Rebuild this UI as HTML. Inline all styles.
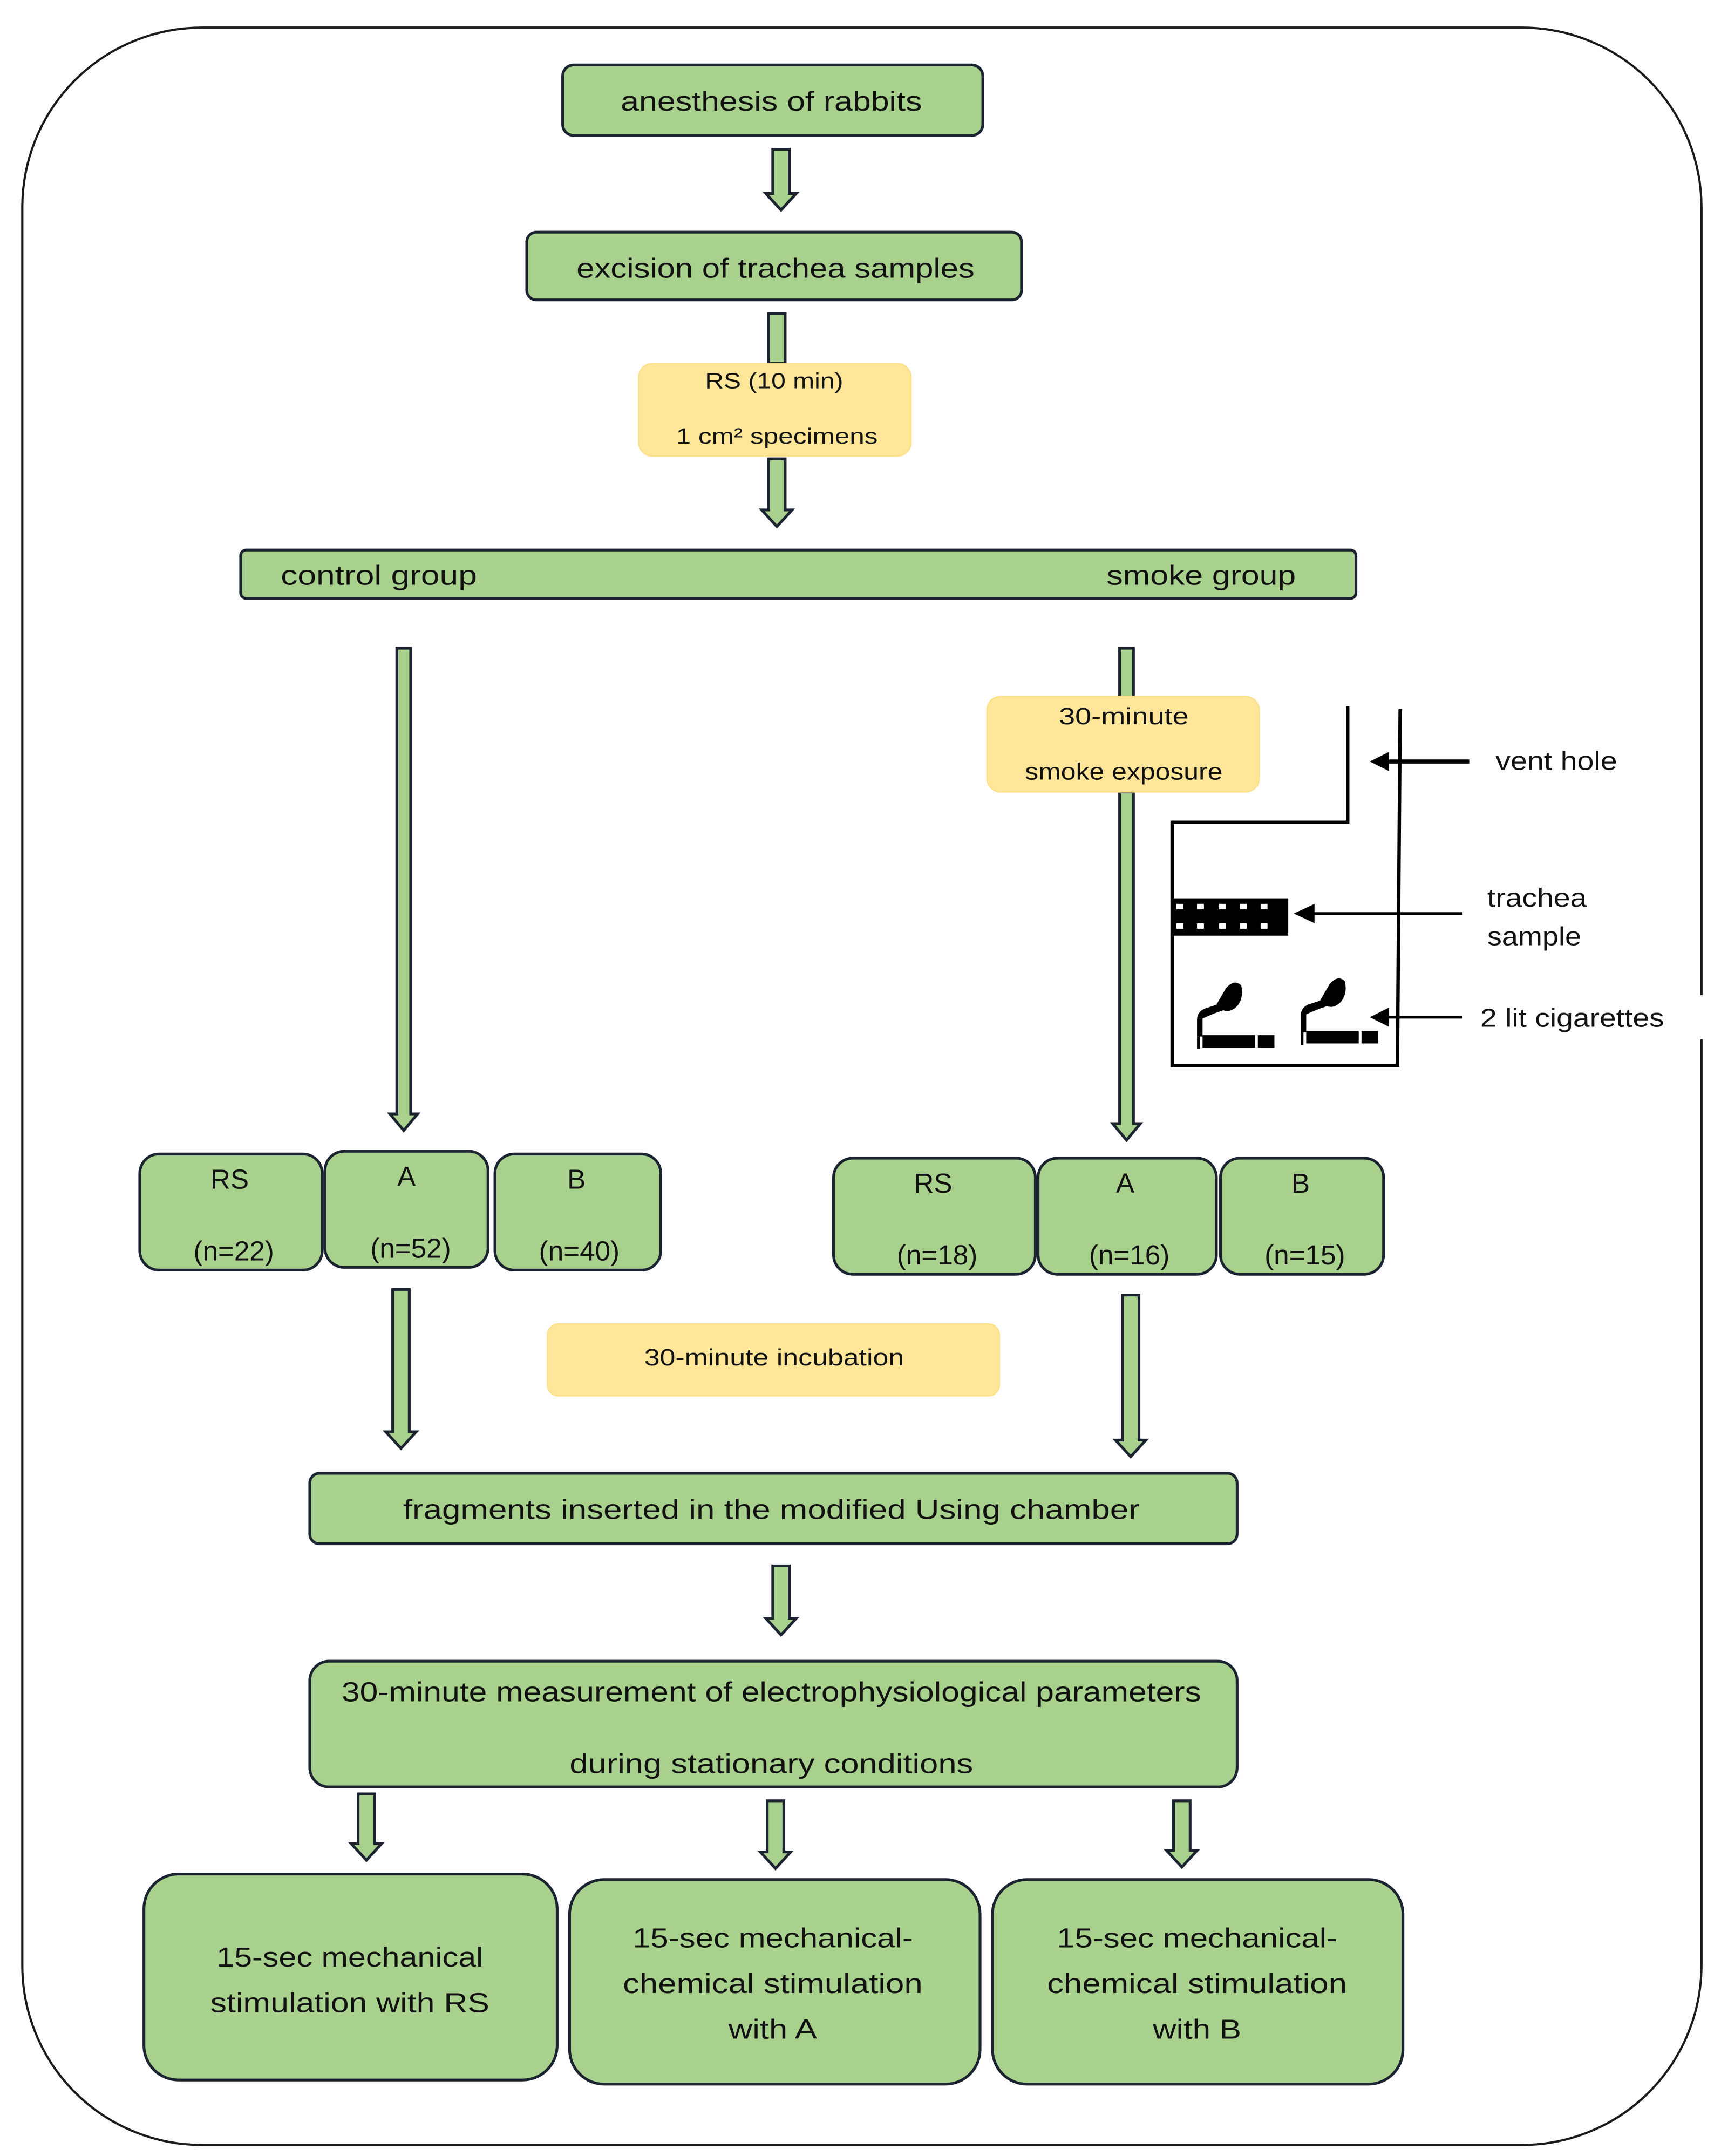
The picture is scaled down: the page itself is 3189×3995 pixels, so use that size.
<!DOCTYPE html>
<html><head><meta charset="utf-8"><style>
html,body{margin:0;padding:0;background:#fff;}
svg{display:block;}
text{font-family:"Liberation Sans",sans-serif;fill:#111;}
</style></head><body>
<svg width="3189" height="3995" viewBox="0 0 1245 1560" xmlns="http://www.w3.org/2000/svg">
<rect x="0" y="0" width="1245" height="1560" fill="#fff"/>
<!-- outer border -->
<path d="M1231,720 V150 A130,130 0 0 0 1101,20 H146 A130,130 0 0 0 16,150 V1422 A130,130 0 0 0 146,1552 H1101 A130,130 0 0 0 1231,1422 V752" fill="none" stroke="#1a1a1a" stroke-width="1.6"/>

<g fill="#a9d18e" stroke="#1b2230" stroke-width="2">
<rect x="407" y="47" width="304" height="51" rx="8"/>
<rect x="381" y="168" width="358" height="49" rx="7"/>
<rect x="174" y="398" width="807" height="35" rx="4"/>
<rect x="101" y="835" width="132" height="84" rx="14"/>
<rect x="235" y="833" width="118" height="84" rx="14"/>
<rect x="358" y="835" width="120" height="84" rx="14"/>
<rect x="603" y="838" width="146" height="84" rx="14"/>
<rect x="751" y="838" width="129" height="84" rx="14"/>
<rect x="883" y="838" width="118" height="84" rx="14"/>
<rect x="224" y="1066" width="671" height="51" rx="7"/>
<rect x="224" y="1202" width="671" height="91" rx="14"/>
<rect x="104" y="1356" width="299" height="149" rx="25"/>
<rect x="412" y="1360" width="297" height="148" rx="25"/>
<rect x="718" y="1360" width="297" height="148" rx="25"/>
<!-- arrows -->
<path d="M559,108 H571 V140 H576 L565,152 L554,140 H559 Z"/>
<rect x="556" y="227" width="12" height="36"/>
<path d="M556,332 H568 V369 H573 L562,381 L551,369 H556 Z"/>
<path d="M287,469 H297 V806 H302 L292,818 L282,806 H287 Z"/>
<rect x="810" y="469" width="10" height="40"/>
<path d="M810,573 H820 V813 H825 L815,825 L805,813 H810 Z"/>
<path d="M284,933 H296 V1036 H301 L290,1048 L279,1036 H284 Z"/>
<path d="M812,937 H824 V1042 H829 L818,1054 L807,1042 H812 Z"/>
<path d="M559,1133 H571 V1171 H576 L565,1183 L554,1171 H559 Z"/>
<path d="M259,1298 H271 V1334 H276 L265,1346 L254,1334 H259 Z"/>
<path d="M555,1303 H567 V1340 H572 L561,1352 L550,1340 H555 Z"/>
<path d="M849,1303 H861 V1339 H866 L855,1351 L844,1339 H849 Z"/>
</g>
<g fill="#ffe699" stroke="#ffe08a" stroke-width="1">
<rect x="462" y="263" width="197" height="67" rx="10"/>
<rect x="714" y="504" width="197" height="69" rx="10"/>
<rect x="396" y="958" width="327" height="52" rx="8"/>
</g>

<g font-size="20" text-anchor="middle">
<text x="558" y="80" textLength="218" lengthAdjust="spacingAndGlyphs">anesthesis of rabbits</text>
<text x="561" y="201" textLength="288" lengthAdjust="spacingAndGlyphs">excision of trachea samples</text>
<text x="560" y="281" font-size="16" textLength="100" lengthAdjust="spacingAndGlyphs">RS (10 min)</text>
<text x="562" y="321" font-size="16" textLength="146" lengthAdjust="spacingAndGlyphs">1 cm² specimens</text>
<text x="274" y="423" textLength="142" lengthAdjust="spacingAndGlyphs">control group</text>
<text x="869" y="423" textLength="137" lengthAdjust="spacingAndGlyphs">smoke group</text>
<text x="813" y="524" font-size="17" textLength="94" lengthAdjust="spacingAndGlyphs">30-minute</text>
<text x="813" y="564" font-size="17" textLength="143" lengthAdjust="spacingAndGlyphs">smoke exposure</text>
<text x="166" y="860">RS</text><text x="169" y="912">(n=22)</text>
<text x="294" y="858">A</text><text x="297" y="910">(n=52)</text>
<text x="417" y="860">B</text><text x="419" y="912">(n=40)</text>
<text x="675" y="863">RS</text><text x="678" y="915">(n=18)</text>
<text x="814" y="863">A</text><text x="817" y="915">(n=16)</text>
<text x="941" y="863">B</text><text x="944" y="915">(n=15)</text>
<text x="560" y="988" font-size="17" textLength="188" lengthAdjust="spacingAndGlyphs">30-minute incubation</text>
<text x="558" y="1099" textLength="533" lengthAdjust="spacingAndGlyphs">fragments inserted in the modified Using chamber</text>
<text x="558" y="1231" textLength="622" lengthAdjust="spacingAndGlyphs">30-minute measurement of electrophysiological parameters</text>
<text x="558" y="1283" textLength="292" lengthAdjust="spacingAndGlyphs">during stationary conditions</text>
<text x="253" y="1423" textLength="193" lengthAdjust="spacingAndGlyphs">15-sec mechanical</text>
<text x="253" y="1456" textLength="202" lengthAdjust="spacingAndGlyphs">stimulation with RS</text>
<text x="559" y="1409" textLength="203" lengthAdjust="spacingAndGlyphs">15-sec mechanical-</text>
<text x="559" y="1442" textLength="217" lengthAdjust="spacingAndGlyphs">chemical stimulation</text>
<text x="559" y="1475" textLength="64" lengthAdjust="spacingAndGlyphs">with A</text>
<text x="866" y="1409" textLength="203" lengthAdjust="spacingAndGlyphs">15-sec mechanical-</text>
<text x="866" y="1442" textLength="217" lengthAdjust="spacingAndGlyphs">chemical stimulation</text>
<text x="866" y="1475" textLength="64" lengthAdjust="spacingAndGlyphs">with B</text>
</g>

<!-- smoke chamber -->
<g fill="none" stroke="#000" stroke-width="2.5">
<path d="M975,511 V595 H848 V771 H1011 L1013,513"/>
<line x1="1063" y1="551" x2="1002" y2="551" stroke-width="3"/>
<line x1="1058" y1="661" x2="945" y2="661" stroke-width="2"/>
<line x1="1058" y1="736" x2="1000" y2="736" stroke-width="2"/>
</g>
<g fill="#000">
<path d="M991,551 L1005,544 V558 Z"/>
<path d="M936,661 L951,654 V668 Z"/>
<path d="M991,736 L1005,729 V743 Z"/>
<rect x="848" y="650" width="84" height="27"/>
</g>
<g fill="#fff">
<rect x="851" y="654" width="5" height="4"/><rect x="866" y="654" width="5" height="4"/><rect x="882" y="654" width="5" height="4"/><rect x="897" y="654" width="5" height="4"/><rect x="912" y="654" width="5" height="4"/>
<rect x="851" y="668" width="5" height="4"/><rect x="866" y="668" width="5" height="4"/><rect x="882" y="668" width="5" height="4"/><rect x="897" y="668" width="5" height="4"/><rect x="912" y="668" width="5" height="4"/>
</g>
<g fill="#000">
<path d="M866,750 V738 Q866,731 874,729 L880,727 Q884,720 887,715 Q893,708 898,713 Q900,722 895,728 Q890,733 885,731 Q876,734 870,737 V750 Z"/>
<rect x="866" y="750" width="2" height="9"/><rect x="870" y="749" width="38" height="9"/><rect x="910" y="749" width="12" height="9"/>
<path d="M941,747 V735 Q941,728 949,726 L955,724 Q959,717 962,712 Q968,705 973,710 Q975,719 970,725 Q965,730 960,728 Q951,731 945,734 V747 Z"/>
<rect x="941" y="747" width="2" height="9"/><rect x="945" y="746" width="38" height="9"/><rect x="985" y="746" width="12" height="9"/>
</g>
<g font-size="19">
<text x="1082" y="557" textLength="88" lengthAdjust="spacingAndGlyphs">vent hole</text>
<text x="1076" y="656" textLength="72" lengthAdjust="spacingAndGlyphs">trachea</text>
<text x="1076" y="684" textLength="68" lengthAdjust="spacingAndGlyphs">sample</text>
<text x="1071" y="743" textLength="133" lengthAdjust="spacingAndGlyphs">2 lit cigarettes</text>
</g>
</svg>
</body></html>
